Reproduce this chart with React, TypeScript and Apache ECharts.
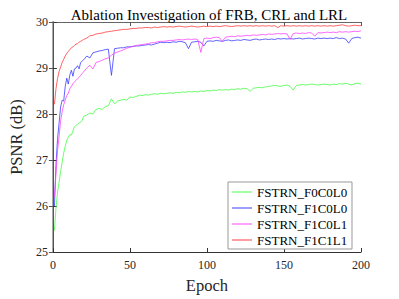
import React, { useEffect, useRef } from "react";
import * as echarts from "echarts";

const epochs = [
  1, 2, 3, 4, 5, 6, 7, 8, 9, 10, 11, 12, 13, 14, 15, 16, 17, 18, 19, 20,
  22, 24, 26, 28, 30, 32, 34, 36, 38, 40, 42, 44, 46, 48, 50, 52, 54, 56, 58, 60,
  62, 64, 66, 68, 70, 72, 74, 76, 78, 80, 82, 84, 86, 88, 90, 92, 94, 96, 98, 100,
  102, 104, 106, 108, 110, 112, 114, 116, 118, 120, 122, 124, 126, 128, 130, 132, 134, 136, 138, 140,
  142, 144, 146, 148, 150, 152, 154, 156, 158, 160, 162, 164, 166, 168, 170, 172, 174, 176, 178, 180,
  182, 184, 186, 188, 190, 192, 194, 196, 198, 200,
];

const f0c0l0 = [
  25.47, 25.95, 26.3, 26.51, 26.75, 26.95, 27.15, 27.3, 27.42, 27.5, 27.55, 27.54, 27.63, 27.72, 27.75, 27.78, 27.8, 27.82, 27.86, 27.95,
  27.98, 28.02, 28.0, 28.1, 28.12, 28.1, 28.16, 28.18, 28.33, 28.22, 28.28, 28.3, 28.32, 28.3, 28.37, 28.36, 28.38, 28.41, 28.4, 28.42,
  28.41, 28.43, 28.44, 28.43, 28.45, 28.44, 28.45, 28.46, 28.45, 28.47, 28.46, 28.48, 28.47, 28.49, 28.48, 28.49, 28.48, 28.5, 28.49, 28.51,
  28.5, 28.52, 28.51, 28.53, 28.52, 28.53, 28.52, 28.54, 28.53, 28.55, 28.54, 28.56, 28.55, 28.49, 28.56, 28.57, 28.58, 28.57, 28.59, 28.6,
  28.61, 28.62, 28.61, 28.6, 28.62, 28.63, 28.6, 28.52, 28.62, 28.63, 28.64, 28.63, 28.64, 28.65, 28.64, 28.63, 28.64, 28.65, 28.64, 28.63,
  28.65, 28.64, 28.66, 28.65, 28.67, 28.65, 28.63, 28.66, 28.67, 28.65,
];

const f1c0l0 = [
  26.0, 26.9, 27.45, 27.8, 28.15, 28.3, 28.28, 28.6, 28.78, 28.65, 28.85, 28.95, 28.82, 28.98, 29.0, 29.05, 28.98, 29.12, 29.15, 29.18,
  29.26, 29.22, 29.33, 29.35, 29.37, 29.38, 29.4, 29.41, 28.84, 29.42, 29.43, 29.44, 29.44, 29.46, 29.46, 29.47, 29.48, 29.48, 29.49, 29.5,
  29.51, 29.5, 29.52, 29.54, 29.56, 29.55, 29.56, 29.55, 29.57, 29.56, 29.58, 29.57, 29.55, 29.42, 29.56, 29.57, 29.58, 29.56, 29.48, 29.58,
  29.59, 29.58, 29.6, 29.59, 29.58, 29.6, 29.61, 29.59, 29.6, 29.61, 29.6, 29.62, 29.61, 29.6, 29.62, 29.63, 29.61, 29.62, 29.63, 29.62,
  29.63, 29.62, 29.64, 29.63, 29.64, 29.63, 29.64, 29.63, 29.64, 29.65, 29.63, 29.64, 29.65, 29.64, 29.63, 29.65, 29.64, 29.65, 29.64, 29.65,
  29.64, 29.66, 29.64, 29.65, 29.63, 29.54, 29.64, 29.66, 29.67, 29.65,
];

const f1c0l1 = [
  26.2, 26.7, 27.2, 27.5, 27.85, 28.05, 28.2, 28.3, 28.4, 28.45, 28.55, 28.6, 28.66, 28.7, 28.73, 28.77, 28.8, 28.84, 28.88, 28.92,
  29.0, 29.06, 28.98, 29.12, 29.14, 29.17, 29.2, 29.22, 29.28, 29.32, 29.35, 29.37, 29.4, 29.43, 29.45, 29.47, 29.49, 29.5, 29.51, 29.52,
  29.53, 29.55, 29.55, 29.57, 29.58, 29.58, 29.59, 29.6, 29.6, 29.61, 29.62, 29.61, 29.62, 29.63, 29.62, 29.63, 29.62, 29.34, 29.64, 29.65,
  29.64, 29.66, 29.67, 29.66, 29.58, 29.67, 29.68, 29.69, 29.68, 29.7, 29.69, 29.7, 29.71, 29.7, 29.72, 29.71, 29.72, 29.73, 29.72, 29.74,
  29.73, 29.74, 29.75, 29.74, 29.75, 29.74, 29.62, 29.75, 29.76, 29.75, 29.76, 29.75, 29.77, 29.76, 29.69, 29.77, 29.76, 29.77, 29.78, 29.77,
  29.78, 29.77, 29.79, 29.78, 29.79, 29.78, 29.79, 29.8, 29.79, 29.81,
];

const f1c1l1 = [
  28.21, 28.55, 28.77, 28.92, 29.02, 29.12, 29.19, 29.26, 29.32, 29.36, 29.4, 29.44, 29.46, 29.49, 29.52, 29.53, 29.56, 29.58, 29.6, 29.62,
  29.65, 29.7, 29.71, 29.74, 29.75, 29.76, 29.78, 29.79, 29.8, 29.81, 29.82, 29.83, 29.84, 29.84, 29.85, 29.86, 29.86, 29.87, 29.87, 29.88,
  29.88, 29.87, 29.89, 29.88, 29.89, 29.9, 29.89, 29.9, 29.89, 29.9, 29.91, 29.9, 29.89, 29.9, 29.91, 29.9, 29.89, 29.9, 29.91, 29.9,
  29.91, 29.9, 29.91, 29.9, 29.91, 29.92, 29.91, 29.9, 29.91, 29.92, 29.91, 29.92, 29.91, 29.92, 29.91, 29.92, 29.91, 29.92, 29.91, 29.92,
  29.91, 29.92, 29.88, 29.92, 29.91, 29.92, 29.91, 29.92, 29.91, 29.92, 29.91, 29.92, 29.91, 29.92, 29.91, 29.92, 29.91, 29.92, 29.91, 29.92,
  29.91, 29.92, 29.93, 29.94, 29.92, 29.91, 29.92, 29.93, 29.92, 29.92,
];

const seriesNames = ["FSTRN_F0C0L0", "FSTRN_F1C0L0", "FSTRN_F1C0L1", "FSTRN_F1C1L1"];
const seriesValues = [f0c0l0, f1c0l0, f1c0l1, f1c1l1];
const seriesColors = ["#44ff44", "#3c3cff", "#ff44ff", "#ff3c3c"];

const FONT = "Liberation Serif";

export default function App() {
  const ref = useRef<HTMLDivElement>(null);
  useEffect(() => {
    if (!ref.current) return;
    const chart = echarts.init(ref.current, undefined, { renderer: "svg" });
    const axisLabel = { fontFamily: FONT, fontSize: 12, color: "#262626" };
    chart.setOption({
      animation: false,
      backgroundColor: "#ffffff",
      textStyle: { fontFamily: FONT },
      title: {
        text: "Ablation Investigation of FRB, CRL and LRL",
        left: 204,
        textAlign: "center",
        top: 2,
        textStyle: { fontFamily: FONT, fontSize: 15, fontWeight: "normal", color: "#000" },
      },
      grid: { left: 52, right: 38, top: 22, bottom: 41 },
      graphic: [
        {
          type: "rect",
          z: 3,
          shape: { x: 228, y: 182, width: 124, height: 67 },
          style: { fill: "#ffffff", stroke: "#999999", lineWidth: 1 },
        },
      ],
      legend: {
        left: 228,
        top: 182,
        z: 5,
        orient: "vertical",
        padding: [3, 3, 3, 4],
        itemWidth: 20,
        itemHeight: 12,
        itemGap: 2,
        icon: "path://M0 0H20V1H0Z",
        data: seriesNames,
        textStyle: { fontFamily: FONT, fontSize: 13, color: "#000", lineHeight: 14 },
      },
      xAxis: [
        {
          type: "value",
          min: 0,
          max: 200,
          interval: 50,
          name: "Epoch",
          nameLocation: "middle",
          nameGap: 25,
          nameTextStyle: { fontFamily: FONT, fontSize: 16.5, color: "#262626" },
          axisLine: { show: true, lineStyle: { color: "#333", width: 1 } },
          axisTick: { show: true, inside: true, length: 4, lineStyle: { color: "#333" } },
          axisLabel: { ...axisLabel, margin: 7 },
          splitLine: { show: false },
        },
        {
          type: "value",
          position: "top",
          min: 0,
          max: 200,
          interval: 50,
          axisLine: { show: true, lineStyle: { color: "#666", width: 1 } },
          axisTick: { show: true, inside: true, length: 4, lineStyle: { color: "#555" } },
          axisLabel: { show: false },
          splitLine: { show: false },
        },
      ],
      yAxis: [
        {
          type: "value",
          min: 25,
          max: 30,
          interval: 1,
          name: "PSNR (dB)",
          nameLocation: "middle",
          nameGap: 12,
          nameTextStyle: { fontFamily: FONT, fontSize: 16.5, color: "#262626" },
          axisLine: { show: true, lineStyle: { color: "#aaa", width: 2 } },
          axisTick: { show: true, inside: true, length: 4, lineStyle: { color: "#333" } },
          axisLabel: { ...axisLabel, margin: 5 },
          splitLine: { show: false },
        },
        {
          type: "value",
          position: "right",
          min: 25,
          max: 30,
          interval: 1,
          axisLine: { show: true, lineStyle: { color: "#555", width: 1 } },
          axisTick: { show: true, inside: true, length: 4, lineStyle: { color: "#555" } },
          axisLabel: { show: false },
          splitLine: { show: false },
        },
      ],
      series: seriesNames.map((name, i) => ({
        name,
        type: "line",
        xAxisIndex: 0,
        yAxisIndex: 0,
        symbol: "none",
        showSymbol: false,
        color: seriesColors[i],
        lineStyle: { color: seriesColors[i], width: 0.8 },
        data: epochs.map((e, j) => [e, seriesValues[i][j]]),
      })),
    });
    return () => chart.dispose();
  }, []);
  return (
    <div
      ref={ref}
      style={{ position: "absolute", left: 0, top: 0, width: 399, height: 299 }}
    />
  );
}
